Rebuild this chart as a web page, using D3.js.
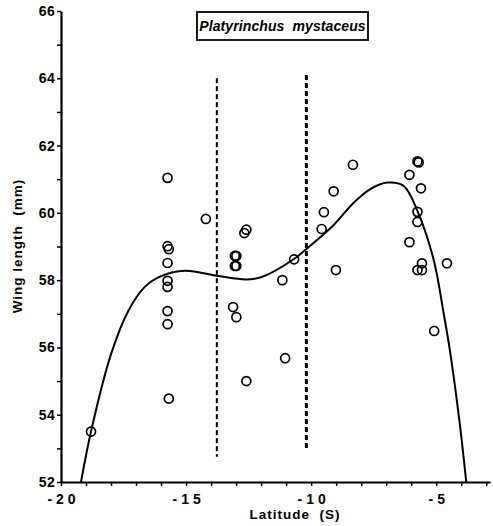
<!DOCTYPE html>
<html><head><meta charset="utf-8">
<script src="https://cdn.jsdelivr.net/npm/d3@7"></script>
<style>
html,body{margin:0;padding:0;background:#fff;}
svg{display:block;font-family:"Liberation Sans",Arial,sans-serif;}
</style></head>
<body>
<script>
// ---- data ----
const title = "Platyrinchus  mystaceus";
const xLabel = "Latitude  (S)";
const yLabel = "Wing length  (mm)";
const xTicks = [-20, -15, -10, -5];
const yTicks = [52, 54, 56, 58, 60, 62, 64, 66];
const pointLat = [-18.8, -15.74, -14.21, -15.74, -15.69, -15.74, -15.74, -15.74, -15.74, -15.74, -15.69,
  -12.59, -12.67, -13.05, -12.99, -13.05, -12.99, -10.68, -11.15, -13.12, -12.99, -11.04, -12.59,
  -9.58, -9.49, -9.10, -9.01, -8.33,
  -5.75, -5.70, -6.07, -5.61, -5.75, -5.75, -6.07, -5.57, -5.75, -5.57, -4.57, -5.08];
const pointWing = [53.5, 61.04, 59.82, 59.01, 58.92, 58.51, 57.98, 57.80, 57.08, 56.69, 54.48,
  59.5, 59.4, 58.72, 58.72, 58.42, 58.42, 58.62, 58.0, 57.2, 56.9, 55.68, 55.0,
  59.52, 60.02, 60.64, 58.30, 61.43,
  61.53, 61.5, 61.13, 60.73, 60.03, 59.73, 59.13, 58.5, 58.3, 58.3, 58.5, 56.49];
const curveLat = [-19.2, -18.8, -18.0, -17.3, -16.65, -16.0, -15.05, -13.7, -12.6, -11.95, -10.7, -10.2,
  -9.15, -8.3, -7.65, -6.95, -6.3, -5.75, -5.1, -4.7, -4.45, -4.07, -3.8];
const curveWing = [52.0, 53.5, 55.8, 57.1, 57.8, 58.12, 58.28, 58.12, 58.02, 58.1, 58.62, 58.92,
  59.6, 60.3, 60.7, 60.9, 60.8, 60.05, 58.6, 57.0, 55.9, 53.8, 52.0];
const dividerLat = [-13.77, -10.19];
const dividerTop = [64.0, 64.1];
const dividerBottom = [52.75, 52.95];

// ---- layout ----
const W = 493, H = 526;
const x0 = 61, x1 = 490, y0 = 482, y1 = 11;
const x = d3.scaleLinear().domain([-20, -2.85]).range([x0, x1]);
const y = d3.scaleLinear().domain([52, 66]).range([y0, y1]);

const svg = d3.select("body").append("svg").attr("width", W).attr("height", H);

// curve (clipped to plot)
svg.append("clipPath").attr("id", "clip").append("rect")
  .attr("x", x0).attr("y", y1 - 5).attr("width", x1 - x0).attr("height", y0 - y1 + 5);
const curveData = curveLat.map((d, i) => [d, curveWing[i]]);
svg.append("path").datum(curveData)
  .attr("clip-path", "url(#clip)")
  .attr("fill", "none").attr("stroke", "#000").attr("stroke-width", 2)
  .attr("d", d3.line().x(d => x(d[0])).y(d => y(d[1])).curve(d3.curveCatmullRom.alpha(0.5)));

// dashed dividers
svg.selectAll("line.div").data(dividerLat).join("line")
  .attr("class", "div")
  .attr("x1", d => x(d)).attr("x2", d => x(d))
  .attr("y1", (d, i) => y(dividerTop[i])).attr("y2", (d, i) => y(dividerBottom[i]))
  .attr("stroke", "#000")
  .attr("stroke-width", (d, i) => i === 0 ? 2 : 3)
  .attr("stroke-dasharray", "5,3");

// points
const pts = pointLat.map((d, i) => [d, pointWing[i]]);
svg.selectAll("circle.pt").data(pts).join("circle")
  .attr("class", "pt")
  .attr("cx", d => x(d[0])).attr("cy", d => y(d[1])).attr("r", 4.5)
  .attr("fill", "none").attr("stroke", "#000").attr("stroke-width", 1.7);

// axes
const xAxis = d3.axisBottom(x).tickValues(d3.range(-20, -2, 1)).tickSize(4).tickSizeOuter(0)
  .tickFormat(d => xTicks.includes(d) ? String(d) : "");
const gx = svg.append("g").attr("transform", `translate(0,${y0})`).call(xAxis);
gx.select(".domain").attr("stroke-width", 2.2);
gx.selectAll(".tick line").attr("stroke-width", 1.5);
gx.selectAll(".tick text").attr("font-size", 14).attr("font-weight", "bold")
  .attr("letter-spacing", "4px").attr("fill", "#000").attr("dy", "1.05em")
  .attr("dx", "2px");

const yAxis = d3.axisLeft(y).tickValues(d3.range(52, 66.5, 1)).tickSize(4).tickSizeOuter(0)
  .tickFormat(d => yTicks.includes(d) ? String(d) : "");
const gy = svg.append("g").attr("transform", `translate(${x0},0)`).call(yAxis);
gy.select(".domain").attr("stroke-width", 2.2);
gy.selectAll(".tick line").attr("stroke-width", 1.5);
gy.selectAll(".tick text").attr("font-size", 14).attr("font-weight", "bold")
  .attr("letter-spacing", "0.3px").attr("fill", "#000").attr("x", -6);

// axis titles
svg.append("text").attr("x", 295).attr("y", 519).attr("text-anchor", "middle")
  .attr("font-size", 13.5).attr("font-weight", "bold").attr("letter-spacing", "1px")
  .style("white-space", "pre").text(xLabel);
svg.append("text").attr("transform", "translate(22,246) rotate(-90)").attr("text-anchor", "middle")
  .attr("font-size", 13.5).attr("font-weight", "bold").attr("letter-spacing", "1px")
  .style("white-space", "pre").text(yLabel);

// title box
svg.append("rect").attr("x", 197).attr("y", 12).attr("width", 171).attr("height", 28)
  .attr("fill", "#fff").attr("stroke", "#000").attr("stroke-width", 1.8);
svg.append("text").attr("x", 282.5).attr("y", 31).attr("text-anchor", "middle")
  .attr("font-size", 14).attr("font-weight", "bold").attr("font-style", "italic")
  .attr("letter-spacing", "0.1px").style("white-space", "pre").text(title);
</script>
</body></html>
